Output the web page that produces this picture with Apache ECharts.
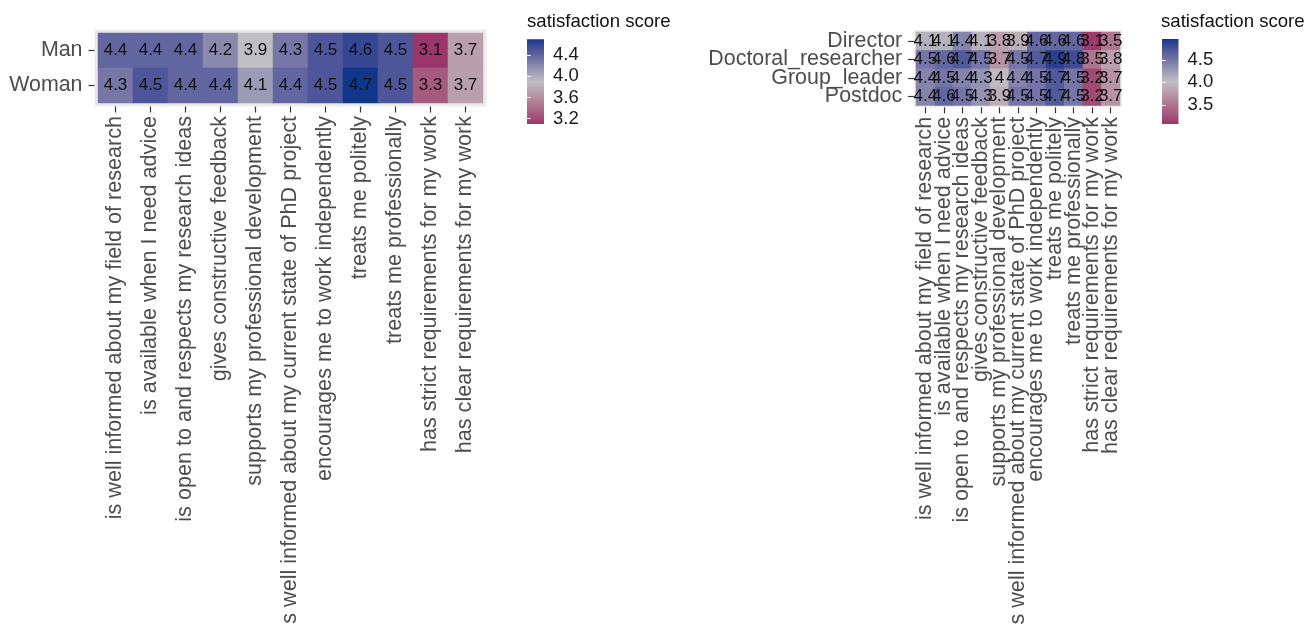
<!DOCTYPE html>
<html>
<head>
<meta charset="utf-8">
<script src="https://cdn.jsdelivr.net/npm/echarts@6/dist/echarts.min.js"></script>
<style>
  html, body { margin: 0; padding: 0; background: #ffffff; }
  #chart { width: 1308px; height: 624px; }
</style>
</head>
<body>
<div id="chart"></div>
<script>
// ---------------- data ----------------
const behaviours = [
  'is well informed about my field of research',
  'is available when I need advice',
  'is open to and respects my research ideas',
  'gives constructive feedback',
  'supports my professional development',
  'is well informed about my current state of PhD project',
  'encourages me to work independently',
  'treats me politely',
  'treats me professionally',
  'has strict requirements for my work',
  'has clear requirements for my work'
];
const genderRows = ['Man', 'Woman'];
const manScores   = [4.4, 4.4, 4.4, 4.2, 3.9, 4.3, 4.5, 4.6, 4.5, 3.1, 3.7];
const womanScores = [4.3, 4.5, 4.4, 4.4, 4.1, 4.4, 4.5, 4.7, 4.5, 3.3, 3.7];

const positionRows = ['Director', 'Doctoral_researcher', 'Group_leader', 'Postdoc'];
const directorScores    = [4.1, 4.1, 4.4, 4.1, 3.8, 3.9, 4.6, 4.6, 4.6, 3.1, 3.5];
const doctoralScores    = [4.5, 4.6, 4.7, 4.5, 3.7, 4.5, 4.7, 4.9, 4.8, 3.5, 3.8];
const groupLeaderScores = [4.4, 4.5, 4.4, 4.3, 4, 4.4, 4.5, 4.7, 4.5, 3.2, 3.7];
const postdocScores     = [4.4, 4.6, 4.5, 4.3, 3.9, 4.5, 4.5, 4.7, 4.5, 3.2, 3.7];

const leftScoreRange  = [3.1, 4.7];
const rightScoreRange = [3.07, 4.97];
const leftLegendTicks  = [3.2, 3.6, 4.0, 4.4];
const rightLegendTicks = [3.5, 4.0, 4.5];
const legendTitle = 'satisfaction score';

// ---------------- colour scale (3-colour gradient, Lab interpolation) ----------------
const LOW = '#9A3669', MID = '#BFBFC2', HIGH = '#10378A';
function hexToRgb(h) { h = h.replace('#', ''); return [0, 2, 4].map(i => parseInt(h.substr(i, 2), 16)); }
function toLin(c) { c /= 255; return c <= 0.04045 ? c / 12.92 : Math.pow((c + 0.055) / 1.055, 2.4); }
function fromLin(c) { c = c <= 0.0031308 ? 12.92 * c : 1.055 * Math.pow(c, 1 / 2.4) - 0.055; return Math.max(0, Math.min(255, Math.round(c * 255))); }
const WX = 0.95047, WY = 1.0, WZ = 1.08883;
function rgbToLab(rgb) {
  const [r, g, b] = rgb.map(toLin);
  const x = (r * 0.4124 + g * 0.3576 + b * 0.1805) / WX;
  const y = (r * 0.2126 + g * 0.7152 + b * 0.0722) / WY;
  const z = (r * 0.0193 + g * 0.1192 + b * 0.9505) / WZ;
  const f = t => t > 0.008856 ? Math.cbrt(t) : 7.787 * t + 16 / 116;
  const fx = f(x), fy = f(y), fz = f(z);
  return [116 * fy - 16, 500 * (fx - fy), 200 * (fy - fz)];
}
function labToHex(lab) {
  const fy = (lab[0] + 16) / 116, fx = fy + lab[1] / 500, fz = fy - lab[2] / 200;
  const fi = t => t * t * t > 0.008856 ? t * t * t : (t - 16 / 116) / 7.787;
  const x = fi(fx) * WX, y = fi(fy) * WY, z = fi(fz) * WZ;
  const r = x * 3.2406 + y * -1.5372 + z * -0.4986;
  const g = x * -0.9689 + y * 1.8758 + z * 0.0415;
  const b = x * 0.0557 + y * -0.2040 + z * 1.0570;
  return '#' + [r, g, b].map(fromLin).map(v => v.toString(16).padStart(2, '0')).join('');
}
const labLow = rgbToLab(hexToRgb(LOW)), labMid = rgbToLab(hexToRgb(MID)), labHigh = rgbToLab(hexToRgb(HIGH));
function mixLab(a, b, t) { return a.map((v, i) => v + (b[i] - v) * t); }
function scoreColor(v, range) {
  const s = Math.max(0, Math.min(1, (v - range[0]) / (range[1] - range[0])));
  return s < 0.5 ? labToHex(mixLab(labLow, labMid, s * 2)) : labToHex(mixLab(labMid, labHigh, (s - 0.5) * 2));
}
const N_STOPS = 60;
function colourList(range) {
  const out = [];
  for (let i = 0; i <= N_STOPS; i++) out.push(scoreColor(range[0] + (range[1] - range[0]) * i / N_STOPS, range));
  return out;
}
function gradientStops(range) {
  return colourList(range).map((c, i) => ({ offset: 1 - i / N_STOPS, color: c })).reverse();
}

// ---------------- build series data ----------------
function toCells(rowsOfScores) {
  const cells = [];
  rowsOfScores.forEach((row, yi) => row.forEach((v, xi) => cells.push([xi, yi, v])));
  return cells;
}
const leftCells = toCells([manScores, womanScores]);
const rightCells = toCells([directorScores, doctoralScores, groupLeaderScores, postdocScores]);

// ---------------- chart ----------------
const FONT = "'Liberation Sans', Arial, Helvetica, sans-serif";
const AXIS_TEXT = '#4D4D4D';
const chart = echarts.init(document.getElementById('chart'), null, { renderer: 'canvas' });

function hiddenAxis(gi) { return { type: 'value', gridIndex: gi, show: false }; }
function catX(gi, offset) {
  return {
    type: 'category', gridIndex: gi, data: behaviours, offset: offset,
    axisLine: { show: false },
    axisTick: { show: true, alignWithLabel: true, length: 6, lineStyle: { color: '#333333', width: 1.2 } },
    axisLabel: { interval: 0, rotate: 90, margin: 9.5, fontSize: 21.6, color: AXIS_TEXT, fontFamily: FONT },
    splitLine: { show: false }
  };
}
function catY(gi, rows, offset) {
  return {
    type: 'category', gridIndex: gi, data: rows, inverse: true, offset: offset,
    axisLine: { show: false },
    axisTick: { show: true, alignWithLabel: true, length: 6, lineStyle: { color: '#333333', width: 1.2 } },
    axisLabel: { interval: 0, margin: 12, fontSize: 21.4, color: AXIS_TEXT, fontFamily: FONT },
    splitLine: { show: false }
  };
}
function legendAxis(gi, range, ticks, pos, withLabels) {
  return {
    type: 'value', gridIndex: gi, min: range[0], max: range[1], position: pos, z: 10,
    axisLine: { show: false },
    splitLine: { show: false },
    axisTick: { show: true, inside: true, length: 3.5, customValues: ticks, lineStyle: { color: '#ffffff', width: 1 } },
    axisLabel: { show: withLabels, customValues: ticks, margin: 9, fontSize: 18.5, color: '#1A1A1A', fontFamily: FONT,
      formatter: v => Number(v).toFixed(1) }
  };
}
function legendSeries(xi, yi, range) {
  const stops = gradientStops(range);
  return {
    type: 'custom', xAxisIndex: xi, yAxisIndex: yi, silent: true,
    data: [[0, range[0], range[1]]],
    renderItem: function (params, api) {
      const topLeft = api.coord([0, api.value(2)]);
      const botRight = api.coord([1, api.value(1)]);
      return {
        type: 'rect',
        shape: { x: topLeft[0], y: topLeft[1], width: botRight[0] - topLeft[0], height: botRight[1] - topLeft[1] },
        style: { fill: new echarts.graphic.LinearGradient(0, 0, 0, 1, stops) }
      };
    }
  };
}
function heatSeries(xi, yi, cells) {
  return {
    type: 'heatmap', xAxisIndex: xi, yAxisIndex: yi, data: cells,
    label: { show: true, fontSize: 17, color: '#111111', fontFamily: FONT, formatter: p => String(p.value[2]) },
    itemStyle: { borderWidth: 0 },
    emphasis: { disabled: true }
  };
}
function gridBox(box, extra) {
  return Object.assign({ outerBoundsMode: 'none', containLabel: false }, box, extra || {});
}

const option = {
  animation: false,
  textStyle: { fontFamily: FONT },
  title: [
    { text: legendTitle, left: 527, top: 12.5, padding: 0, textStyle: { fontSize: 18.6, fontWeight: 'normal', color: '#111111', fontFamily: FONT } },
    { text: legendTitle, left: 1161, top: 12.5, padding: 0, textStyle: { fontSize: 18.6, fontWeight: 'normal', color: '#111111', fontFamily: FONT } }
  ],
  grid: [
    gridBox({ left: 94.5, top: 29.5, width: 392, height: 77 }, { show: true, backgroundColor: '#EBEBEB', borderWidth: 0 }),
    gridBox({ left: 98, top: 33, width: 385, height: 70 }),
    gridBox({ left: 914.2, top: 30.2, width: 207.7, height: 77.1 }, { show: true, backgroundColor: '#EBEBEB', borderWidth: 0 }),
    gridBox({ left: 916, top: 32, width: 204, height: 73.5 }),
    gridBox({ left: 527, top: 39.3, width: 17, height: 84.7 }),
    gridBox({ left: 1162, top: 39, width: 16.5, height: 85 })
  ],
  xAxis: [
    hiddenAxis(0),
    catX(1, 3.5),
    hiddenAxis(2),
    catX(3, 1.85),
    { type: 'value', gridIndex: 4, min: 0, max: 1, show: false },
    { type: 'value', gridIndex: 5, min: 0, max: 1, show: false }
  ],
  yAxis: [
    hiddenAxis(0),
    catY(1, genderRows, 3.5),
    hiddenAxis(2),
    catY(3, positionRows, 1.85),
    legendAxis(4, leftScoreRange, leftLegendTicks, 'right', true),
    legendAxis(4, leftScoreRange, leftLegendTicks, 'left', false),
    legendAxis(5, rightScoreRange, rightLegendTicks, 'right', true),
    legendAxis(5, rightScoreRange, rightLegendTicks, 'left', false)
  ],
  visualMap: [
    { type: 'continuous', show: false, seriesIndex: 0, dimension: 2, min: leftScoreRange[0], max: leftScoreRange[1], inRange: { color: colourList(leftScoreRange) } },
    { type: 'continuous', show: false, seriesIndex: 1, dimension: 2, min: rightScoreRange[0], max: rightScoreRange[1], inRange: { color: colourList(rightScoreRange) } }
  ],
  series: [
    heatSeries(1, 1, leftCells),
    heatSeries(3, 3, rightCells),
    legendSeries(4, 4, leftScoreRange),
    legendSeries(5, 6, rightScoreRange)
  ]
};
chart.setOption(option);
</script>
</body>
</html>
